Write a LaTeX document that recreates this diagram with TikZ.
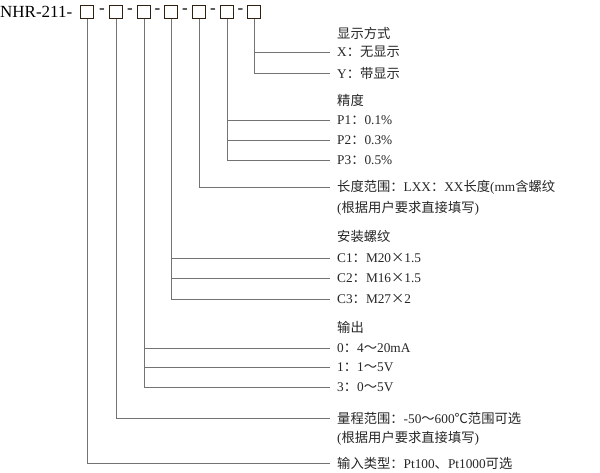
\documentclass[tikz,border=0pt]{standalone}
\usepackage{fontspec}
\setmainfont{Liberation Serif}
\newfontfamily\cjk{Noto Sans CJK SC}
\newcommand{\C}[1]{{\cjk #1}}
\begin{document}
\begin{tikzpicture}[x=1pt,y=-1pt,
  ln/.style={draw=black!55,line width=0.9pt},
  bx/.style={draw=black!75!brown,line width=0.9pt,minimum size=13pt,inner sep=0,anchor=center},
  lab/.style={anchor=west,inner sep=0,font=\fontsize{13.3}{15}\selectfont,text=black!85}]
\useasboundingbox (0,0) rectangle (600,473);
\node[anchor=west,inner sep=0,font=\fontsize{17}{19}\selectfont] (t) at (0,12) {NHR-211-};
\foreach \i/\x in {1/87,2/116,3/144,4/171,5/199,6/227,7/254}{
  \node[bx] (b\i) at (\x,12) {};
}
\foreach \x in {102,130,157.5,185,213,240.5}{\node[inner sep=0,font=\fontsize{17}{19}\selectfont] at (\x,11) {-};}
% text
\node[lab] (l7a) at (337,33) {\C{显示方式}};
\node[lab] (l7b) at (337,52) {X\C{：无显示}};
\node[lab] (l7c) at (337,73) {Y\C{：带显示}};
\node[lab] (l6a) at (337,100) {\C{精度}};
\node[lab] (l6b) at (337,120) {P1\C{：}0.1\%};
\node[lab] (l6c) at (337,140) {P2\C{：}0.3\%};
\node[lab] (l6d) at (337,160) {P3\C{：}0.5\%};
\node[lab] (l5a) at (337,187) {\C{长度范围：}LXX\C{：}XX\C{长度}(mm\C{含螺纹}};
\node[lab] (l5b) at (337,208) {(\C{根据用户要求直接填写})};
\node[lab] (l4a) at (337,236) {\C{安装螺纹}};
\node[lab] (l4b) at (337,258) {C1\C{：}M20\C{×}1.5};
\node[lab] (l4c) at (337,278) {C2\C{：}M16\C{×}1.5};
\node[lab] (l4d) at (337,299) {C3\C{：}M27\C{×}2};
\node[lab] (l3a) at (337,327) {\C{输出}};
\node[lab] (l3b) at (337,348) {0\C{：}4\C{～}20mA};
\node[lab] (l3c) at (337,367) {1\C{：}1\C{～}5V};
\node[lab] (l3d) at (337,387) {3\C{：}0\C{～}5V};
\node[lab] (l2a) at (337,418) {\C{量程范围：}-50\C{～}600\C{℃范围可选}};
\node[lab] (l2b) at (337,438) {(\C{根据用户要求直接填写})};
\node[lab] (l1) at (337,463) {\C{输入类型：}Pt100\C{、}Pt1000\C{可选}};
% connectors
\draw[ln] (b7.south) |- ([xshift=-7pt]l7b.west);
\draw[ln] (b7.south) |- ([xshift=-7pt]l7c.west);
\draw[ln] (b6.south) |- ([xshift=-7pt]l6b.west);
\draw[ln] (b6.south) |- ([xshift=-7pt]l6c.west);
\draw[ln] (b6.south) |- ([xshift=-7pt]l6d.west);
\draw[ln] (b5.south) |- ([xshift=-7pt]l5a.west);
\draw[ln] (b4.south) |- ([xshift=-7pt]l4b.west);
\draw[ln] (b4.south) |- ([xshift=-7pt]l4c.west);
\draw[ln] (b4.south) |- ([xshift=-7pt]l4d.west);
\draw[ln] (b3.south) |- ([xshift=-7pt]l3b.west);
\draw[ln] (b3.south) |- ([xshift=-7pt]l3c.west);
\draw[ln] (b3.south) |- ([xshift=-7pt]l3d.west);
\draw[ln] (b2.south) |- ([xshift=-7pt]l2a.west);
\draw[ln] (b1.south) |- ([xshift=-7pt]l1.west);
\end{tikzpicture}
\end{document}
